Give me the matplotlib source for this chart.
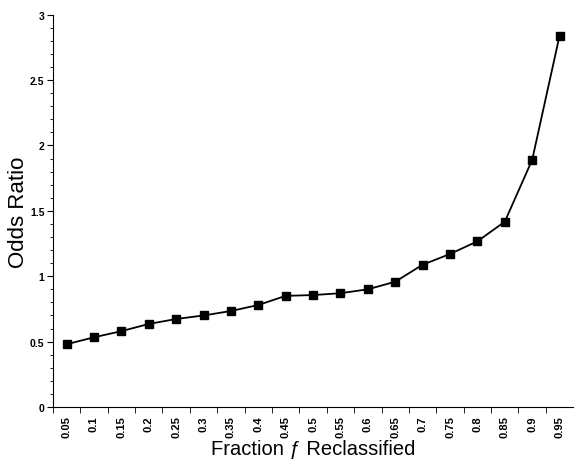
import matplotlib
matplotlib.use("Agg")
import matplotlib.pyplot as plt

plt.rcParams['font.family'] = ['Liberation Sans', 'DejaVu Sans']

fractions = ["0.05", "0.1", "0.15", "0.2", "0.25", "0.3", "0.35", "0.4", "0.45", "0.5",
             "0.55", "0.6", "0.65", "0.7", "0.75", "0.8", "0.85", "0.9", "0.95"]
odds = [0.48, 0.533, 0.58, 0.635, 0.673, 0.70, 0.734, 0.78, 0.85, 0.856,
        0.87, 0.90, 0.958, 1.088, 1.17, 1.267, 1.417, 1.89, 2.84]

fig = plt.figure(figsize=(5.75, 4.6), dpi=100)
ax = fig.add_axes([0.092, 0.113, 0.905, 0.853])

pos = list(range(len(fractions)))
ax.plot(pos, odds, color="black", lw=1.3, marker="s", markersize=6)

ax.set_xlim(-0.5, len(fractions) - 0.5)
ax.set_ylim(0, 3)
ax.set_yticks([0, 0.5, 1, 1.5, 2, 2.5, 3])
ax.set_yticklabels(["0", "0.5", "1", "1.5", "2", "2.5", "3"], fontsize=7.5, fontweight="bold")
ax.set_yticks([i / 10 for i in range(31)], minor=True)
ax.set_xticks(pos)
ax.set_xticklabels(fractions, rotation=90, fontsize=8, fontweight="bold")
ax.tick_params(axis="x", length=0, pad=6)
ax.set_xticks([p - 0.5 for p in pos], minor=True)
ax.tick_params(axis="x", which="minor", length=4, direction="out")
ax.tick_params(axis="y", length=4, direction="out", pad=2)
ax.tick_params(axis="y", which="minor", length=2, direction="out")

for s in ["top", "right"]:
    ax.spines[s].set_visible(False)

ax.set_ylabel("Odds Ratio", fontsize=16)
ax.yaxis.set_label_coords(-0.046, 0.5)
ax.set_xlabel("Fraction ƒ Reclassified", fontsize=14.5, labelpad=1)

fig.savefig("out.png", dpi=100)
